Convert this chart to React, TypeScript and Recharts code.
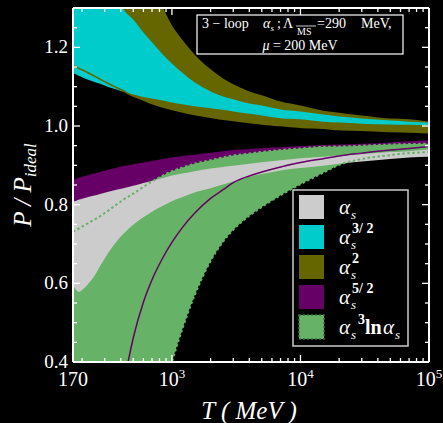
import React from "react";
import { Area, ComposedChart, Line, XAxis, YAxis } from "recharts";

// temperature grid (MeV)
const temps = [170, 180, 190, 200, 220, 250, 280, 320, 370, 420, 500, 600, 700, 850, 1000, 1200, 1500, 2000, 2500, 3000, 4000, 5000, 7000, 10000, 15000, 20000, 30000, 50000, 70000, 100000];

// alpha_s^2 band (olive)
const oliveHi = [2.02, 1.997, 1.972, 1.946, 1.896, 1.832, 1.768, 1.704, 1.628, 1.564, 1.496, 1.424, 1.366, 1.302, 1.256, 1.22, 1.182, 1.144, 1.121, 1.106, 1.088, 1.078, 1.062, 1.052, 1.039, 1.034, 1.027, 1.019, 1.017, 1.011];
const oliveLo = [1.154, 1.15, 1.146, 1.143, 1.136, 1.127, 1.118, 1.108, 1.098, 1.089, 1.076, 1.066, 1.057, 1.048, 1.042, 1.036, 1.029, 1.022, 1.017, 1.014, 1.009, 1.005, 1.001, 0.997, 0.994, 0.991, 0.989, 0.986, 0.985, 0.983];
// alpha_s^{3/2} band (cyan)
const cyanHi = [1.539, 1.524, 1.508, 1.496, 1.47, 1.437, 1.406, 1.371, 1.335, 1.297, 1.271, 1.238, 1.213, 1.182, 1.159, 1.136, 1.111, 1.088, 1.075, 1.068, 1.057, 1.052, 1.042, 1.037, 1.029, 1.024, 1.019, 1.014, 1.011, 1.009];
const cyanLo = [1.134, 1.131, 1.127, 1.124, 1.118, 1.112, 1.107, 1.099, 1.093, 1.087, 1.08, 1.074, 1.07, 1.065, 1.06, 1.055, 1.05, 1.045, 1.041, 1.037, 1.031, 1.027, 1.02, 1.017, 1.011, 1.009, 1.006, 1.004, 1.003, 1.001];
// alpha_s^{5/2} band (purple)
const purpleHi = [0.864, 0.866, 0.869, 0.871, 0.875, 0.879, 0.884, 0.889, 0.894, 0.898, 0.903, 0.907, 0.911, 0.916, 0.92, 0.924, 0.927, 0.932, 0.936, 0.939, 0.941, 0.944, 0.946, 0.949, 0.952, 0.953, 0.955, 0.958, 0.961, 0.963];
const purpleLo = [-0.851, -0.749, -0.657, -0.573, -0.425, -0.245, -0.099, 0.064, 0.219, 0.336, 0.461, 0.552, 0.609, 0.665, 0.704, 0.741, 0.778, 0.816, 0.838, 0.856, 0.873, 0.883, 0.896, 0.907, 0.917, 0.924, 0.931, 0.939, 0.943, 0.948];
// alpha_s^3 ln alpha_s band (green)
const greenHi = [0.731, 0.736, 0.74, 0.744, 0.752, 0.762, 0.772, 0.785, 0.8, 0.813, 0.828, 0.845, 0.859, 0.874, 0.885, 0.894, 0.904, 0.913, 0.92, 0.925, 0.93, 0.934, 0.939, 0.943, 0.947, 0.948, 0.95, 0.953, 0.954, 0.955];
const greenLo = [-1.126, -1.05, -0.981, -0.915, -0.8, -0.655, -0.535, -0.403, -0.268, -0.158, -0.023, 0.107, 0.206, 0.316, 0.4, 0.482, 0.569, 0.657, 0.706, 0.736, 0.772, 0.794, 0.824, 0.852, 0.881, 0.901, 0.916, 0.926, 0.931, 0.934];
// alpha_s band (gray)
const grayHi = [0.808, 0.81, 0.813, 0.815, 0.819, 0.823, 0.828, 0.833, 0.838, 0.842, 0.848, 0.855, 0.861, 0.868, 0.874, 0.879, 0.885, 0.892, 0.896, 0.899, 0.904, 0.908, 0.913, 0.918, 0.922, 0.925, 0.929, 0.934, 0.936, 0.94];
const grayLo = [0.596, 0.583, 0.578, 0.583, 0.596, 0.619, 0.647, 0.678, 0.706, 0.726, 0.749, 0.768, 0.782, 0.797, 0.809, 0.819, 0.831, 0.842, 0.851, 0.859, 0.871, 0.878, 0.887, 0.893, 0.899, 0.904, 0.91, 0.916, 0.92, 0.922];

// ticks
const xTicks = [170, 200, 300, 400, 500, 600, 700, 800, 900, 1000, 2000, 3000, 4000, 5000, 6000, 7000, 8000, 9000, 10000, 20000, 30000, 40000, 50000, 60000, 70000, 80000, 90000, 100000];
const xMajor = [1000, 10000, 100000];
const xLabels: Record<number, [string, string]> = { 170: ["170", ""], 1000: ["10", "3"], 10000: ["10", "4"], 100000: ["10", "5"] };
const yTicks = [0.4, 0.45, 0.5, 0.55, 0.6, 0.65, 0.7, 0.75, 0.8, 0.85, 0.9, 0.95, 1.0, 1.05, 1.1, 1.15, 1.2, 1.25];
const yMajor = [0.4, 0.6, 0.8, 1.0, 1.2];

const legendColors = ["#cccccc", "#00cccc", "#666600", "#660066", "#66b266"];
const legendSups = ["", "3/ 2", "2", "5/ 2", ""];

const GREEN = "#66b266";
const SERIF = "'Liberation Serif', 'DejaVu Serif', serif";

const rows = temps.map((t, i) => ({
  t,
  olive: [oliveLo[i], oliveHi[i]],
  cyan: [cyanLo[i], cyanHi[i]],
  oliveEdge: oliveLo[i],
  purple: [purpleLo[i], purpleHi[i]],
  purpleEdge: purpleLo[i],
  green: [greenLo[i], greenHi[i]],
  greenTop: greenHi[i],
  greenBottom: greenLo[i],
  gray: [grayLo[i], grayHi[i]]
}));

const isMajorY = (v: number) => yMajor.some((m) => Math.abs(m - v) < 1e-6);

function BottomTick({ x, y, payload }: any) {
  const v = payload.value;
  const lab = xLabels[v];
  return (
    <g>
      {v !== 170 && <line x1={x} x2={x} y1={y} y2={y - (xMajor.includes(v) ? 7 : 4)} stroke="#fff" strokeWidth={1.3} />}
      {lab && (
        <text x={x} y={y + 24} textAnchor="middle" fill="#fff" fontSize={20} fontFamily={SERIF}>
          {lab[0]}
          {lab[1] && (
            <tspan dy={-8} fontSize={13}>
              {lab[1]}
            </tspan>
          )}
        </text>
      )}
    </g>
  );
}

function TopTick({ x, y, payload }: any) {
  const v = payload.value;
  if (v === 170 || v === 100000) return <g />;
  return <line x1={x} x2={x} y1={y} y2={y + (xMajor.includes(v) ? 7 : 4)} stroke="#fff" strokeWidth={1.3} />;
}

function LeftTick({ x, y, payload }: any) {
  const v = payload.value;
  const major = isMajorY(v);
  return (
    <g>
      {v !== 0.4 && <line x1={x} x2={x + (major ? 7 : 4)} y1={y} y2={y} stroke="#fff" strokeWidth={1.3} />}
      {major && (
        <text x={x - 5} y={y + 6} textAnchor="end" fill="#fff" fontSize={19} fontFamily={SERIF}>
          {v.toFixed(1)}
        </text>
      )}
    </g>
  );
}

function RightTick({ x, y, payload }: any) {
  const v = payload.value;
  if (v === 0.4) return <g />;
  return <line x1={x} x2={x - (isMajorY(v) ? 7 : 4)} y1={y} y2={y} stroke="#fff" strokeWidth={1.3} />;
}

function Overlay() {
  return (
    <svg width={443} height={423} style={{ position: "absolute", left: 0, top: 0, pointerEvents: "none" }} fontFamily={SERIF}>
      {/* parameter box */}
      <rect x={197} y={15} width={206} height={39} fill="#000" stroke="#fff" strokeWidth={1.2} />
      <g fill="#fff" fontSize={14}>
        <text x={202} y={28}>3 − loop</text>
        <text x={263} y={28} fontStyle="italic">α</text>
        <text x={270.5} y={31} fontSize={9} fontStyle="italic">s</text>
        <text x={277} y={28}>;</text>
        <text x={283} y={28}>Λ</text>
        <line x1={296} x2={316} y1={26} y2={26} stroke="#fff" strokeWidth={0.8} />
        <text x={297} y={35} fontSize={10}>MS</text>
        <text x={317} y={28}>=290</text>
        <text x={361} y={28}>MeV,</text>
        <text x={300} y={50} textAnchor="middle">
          <tspan fontStyle="italic">μ</tspan> = 200 MeV
        </text>
      </g>
      {/* legend */}
      <rect x={293} y={190} width={115} height={156} fill="#000" stroke="#cccccc" strokeWidth={1.5} />
      {legendColors.map((c, i) => {
        const cy = 207 + 30 * i;
        return (
          <g key={i}>
            <rect x={299} y={cy - 12} width={25} height={24} fill={c} stroke={i === 4 ? "#2f7a2f" : "none"} strokeWidth={1.5} strokeDasharray={i === 4 ? "2 2" : undefined} />
            <text x={339} y={cy + 7} fill="#fff" fontSize={21} fontStyle="italic">α</text>
            <text x={351} y={cy + 12} fill="#fff" fontSize={13} fontStyle="italic">s</text>
            {legendSups[i] && (
              <text x={352} y={cy - 4} fill="#fff" fontSize={14} fontWeight="bold">{legendSups[i]}</text>
            )}
            {i === 4 && (
              <g fill="#fff">
                <text x={358} y={cy - 3} fontSize={14} fontWeight="bold">3</text>
                <text x={365} y={cy + 7} fontSize={20} fontWeight="bold">ln</text>
                <text x={383} y={cy + 7} fontSize={21} fontStyle="italic">α</text>
                <text x={395} y={cy + 12} fontSize={13} fontStyle="italic">s</text>
              </g>
            )}
          </g>
        );
      })}
      {/* axis titles */}
      <text x={249} y={419} textAnchor="middle" fill="#fff" fontSize={25} fontStyle="italic">
        T ( MeV )
      </text>
      <text transform="translate(31,185) rotate(-90)" textAnchor="middle" fill="#fff" fontSize={25} fontStyle="italic">
        P / P<tspan fontSize={17} dy={5}>ideal</tspan>
      </text>
    </svg>
  );
}

export default function App() {
  return (
    <div style={{ position: "absolute", left: 0, top: 0, width: 443, height: 423, background: "#000" }}>
      <ComposedChart width={443} height={423} data={rows} margin={{ top: 7, right: 13, bottom: 60, left: 72 }}>
        <XAxis dataKey="t" type="number" scale="log" domain={[170, 100000]} allowDataOverflow ticks={xTicks} tick={<BottomTick />} tickSize={0} tickMargin={0} tickLine={false} height={1} axisLine={{ stroke: "#fff", strokeWidth: 2 }} interval={0} />
        <XAxis xAxisId="top" orientation="top" dataKey="t" type="number" scale="log" domain={[170, 100000]} allowDataOverflow ticks={xTicks} tick={<TopTick />} tickSize={0} tickMargin={0} tickLine={false} height={1} axisLine={{ stroke: "#fff", strokeWidth: 2 }} interval={0} />
        <YAxis type="number" domain={[0.4, 1.3]} allowDataOverflow ticks={yTicks} tick={<LeftTick />} tickSize={0} tickMargin={0} tickLine={false} width={1} axisLine={{ stroke: "#fff", strokeWidth: 2 }} interval={0} />
        <YAxis yAxisId="right" orientation="right" type="number" domain={[0.4, 1.3]} allowDataOverflow ticks={yTicks} tick={<RightTick />} tickSize={0} tickMargin={0} tickLine={false} width={1} axisLine={{ stroke: "#fff", strokeWidth: 2 }} interval={0} />

        <Area dataKey="olive" type="monotone" fill="#666600" fillOpacity={1} stroke="none" isAnimationActive={false} />
        <Area dataKey="cyan" type="monotone" fill="#00cccc" fillOpacity={1} stroke="none" isAnimationActive={false} />
        <Line dataKey="oliveEdge" type="monotone" stroke="#666600" strokeWidth={1.5} dot={false} isAnimationActive={false} />
        <Area dataKey="purple" type="monotone" fill="#660066" fillOpacity={1} stroke="none" isAnimationActive={false} />
        <Area dataKey="green" type="monotone" fill={GREEN} fillOpacity={1} stroke="none" isAnimationActive={false} />
        <Area dataKey="gray" type="monotone" fill="#cccccc" fillOpacity={1} stroke="none" isAnimationActive={false} />
        <Line dataKey="greenTop" type="monotone" stroke={GREEN} strokeWidth={2} strokeDasharray="2.5 2.5" dot={false} isAnimationActive={false} />
        <Line dataKey="greenBottom" type="monotone" stroke={GREEN} strokeWidth={2} strokeDasharray="2.5 2.5" dot={false} isAnimationActive={false} />
        <Line dataKey="purpleEdge" type="monotone" stroke="#660066" strokeWidth={1.5} dot={false} isAnimationActive={false} />
      </ComposedChart>
      <Overlay />
    </div>
  );
}
